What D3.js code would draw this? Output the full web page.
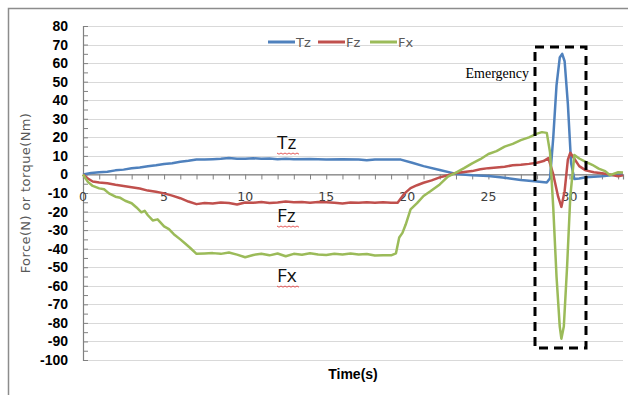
<!DOCTYPE html>
<html>
<head>
<meta charset="utf-8">
<script src="https://cdn.jsdelivr.net/npm/d3@7"></script>
<style>
  body { margin: 0; background: #fff; }
  svg { display: block; font-family: "DejaVu Sans", sans-serif; }
</style>
</head>
<body>
<div id="chart"></div>
<script>

// time (s), value
var tzData = [[0,0],[0.5,0.8],[1,1.2],[1.5,1.5],[2,2.2],[2.5,2.6],[3,3.3],[3.5,3.8],[4,4.4],[4.5,4.9],[5,5.6],[5.5,6],[6,6.8],[6.5,7.4],[7,8.1],[7.5,8],[8,8.2],[8.5,8.4],[9,8.8],[9.5,8.5],[10,8.4],[10.5,8.7],[11,8.4],[11.5,8.6],[12,8.2],[12.5,8.4],[13,8.2],[14,8.3],[15,8.1],[16,8.2],[17,8.1],[17.5,7.6],[18,8.1],[19,8.1],[19.6,8],[20.3,6.3],[21,4.5],[22,2.4],[23,0.3],[24,-0.4],[25,-0.8],[26,-1.8],[27,-3],[28,-3.8],[28.6,-4.3],[28.8,-2],[29,20],[29.2,48],[29.4,63],[29.55,65],[29.7,61],[29.9,38],[30.1,6],[30.3,-2.5],[30.6,-2.2],[31,-1.5],[32,-1],[33,0],[33.3,0]];

var fzData = [[0,0],[0.3,-2.2],[0.6,-3.8],[1,-4.3],[1.5,-4.8],[2,-5.6],[2.5,-6.2],[3,-6.9],[3.5,-7.6],[4,-8.7],[4.5,-9.3],[5,-10.2],[5.5,-11.4],[6,-12.8],[6.5,-14.6],[7,-16],[7.5,-15.4],[8,-15.6],[8.5,-15.1],[9,-15.4],[9.5,-16.2],[10,-15.1],[10.5,-15.3],[11,-14.8],[11.5,-15.4],[12,-15.1],[12.5,-14.6],[13,-15],[13.5,-14.8],[14,-15.2],[14.5,-14.9],[15,-15],[15.5,-15.3],[16,-15.6],[16.5,-15.1],[17,-15.3],[17.5,-15],[18,-15.3],[18.5,-15],[19,-15.2],[19.4,-15.2],[19.8,-10.5],[20.2,-7.4],[20.6,-5.8],[21,-4.5],[21.5,-3.2],[22,-1.6],[22.5,-0.4],[23,0.8],[23.5,1.3],[24,1.8],[24.5,2.8],[25,3.4],[25.5,3.8],[26,4.2],[26.5,4.9],[27,5.2],[27.5,5.7],[28,6.3],[28.4,7.2],[28.7,8.8],[29,0],[29.3,-12],[29.5,-17.5],[29.7,-9],[29.9,8],[30.05,11.7],[30.3,8.5],[30.6,4.5],[31,2.2],[31.5,1.2],[32,0.6],[32.5,0],[33,-1],[33.3,-0.5]];

var fxData = [[0,0],[0.3,-4],[0.6,-6.2],[1,-7.5],[1.3,-8],[1.6,-10.2],[2,-12],[2.3,-12.6],[2.6,-14.2],[3,-15.5],[3.3,-17.8],[3.6,-20.4],[3.8,-19.6],[4,-22],[4.3,-24.8],[4.6,-24.2],[5,-28],[5.3,-29.5],[5.6,-32.2],[6,-35],[6.3,-37.2],[6.6,-39.5],[7,-42.8],[7.5,-42.6],[8,-42.4],[8.5,-42.8],[9,-42.1],[9.5,-43.2],[10,-44.6],[10.5,-43.4],[11,-42.7],[11.5,-43.6],[12,-42.6],[12.5,-44.1],[13,-42.8],[13.5,-43.3],[14,-42.5],[14.5,-43.1],[15,-43.4],[15.5,-42.8],[16,-43.2],[16.5,-42.6],[17,-43.1],[17.5,-42.9],[18,-43.7],[18.5,-43.6],[19,-43.6],[19.3,-42.5],[19.5,-34],[19.7,-31.5],[19.9,-27],[20.2,-18.8],[20.6,-15.5],[21,-11.6],[21.4,-9.2],[22,-5.4],[22.5,-1.2],[23,1],[23.5,3.4],[24,6],[24.5,8.2],[25,11],[25.5,12.6],[26,15],[26.5,16.5],[27,18.5],[27.5,20],[28,22],[28.3,22.8],[28.6,22.4],[28.8,12],[29,-18],[29.2,-55],[29.4,-82],[29.5,-88.5],[29.65,-82],[29.85,-50],[30.05,-12],[30.3,10.5],[30.6,8.6],[31,6.8],[31.4,5.2],[31.8,3.1],[32.2,1.8],[32.5,-0.4],[33,1.2],[33.3,1]];

var seriesNames = ["Tz", "Fz", "Fx"];
var seriesColours = ["#4f81bd", "#c0504d", "#9bbb59"];
var seriesData = [tzData, fzData, fxData];

var yTicks = [80, 70, 60, 50, 40, 30, 20, 10, 0, -10, -20, -30, -40, -50, -60, -70, -80, -90, -100];
var xTickLabels = [0, 5, 10, 15, 20, 25, 30];

var width = 633, height = 395;

var x = d3.scaleLinear().domain([0, 33.3]).range([83, 623]);
var y = d3.scaleLinear().domain([-100, 80]).range([360, 26]);

var svg = d3.select("#chart").append("svg")
.attr("width", width)
.attr("height", height);

// frame (top and left only visible)
svg.append("path")
.attr("d", "M8.5,395 L8.5,8.5 L628,8.5")
.attr("fill", "none")
.attr("stroke", "#8c8c8c")
.attr("stroke-width", 1.5);

// gridlines
svg.append("g")
.selectAll("line")
.data(yTicks)
.enter().append("line")
.attr("x1", x(0))
.attr("x2", x(33.3))
.attr("y1", function(d) { return Math.round(y(d)) + 0.5; })
.attr("y2", function(d) { return Math.round(y(d)) + 0.5; })
.attr("stroke", "#d9d9d9")
.attr("stroke-width", 1);

// y axis (ticks every 5, inside)
var yAxis = d3.axisRight(y)
.tickValues(d3.range(-100, 81, 5))
.tickSize(5)
.tickFormat("");
svg.append("g")
.attr("transform", "translate(" + x(0) + ",0)")
.call(yAxis)
.call(function(g) {
  g.select(".domain").attr("stroke", "#808080").attr("stroke-width", 1.2);
  g.selectAll(".tick line").attr("stroke", "#808080");
});

// y labels
svg.append("g")
.selectAll("text")
.data(yTicks)
.enter().append("text")
.attr("x", 68)
.attr("y", function(d) { return y(d) + 5; })
.attr("text-anchor", "end")
.attr("font-size", 14)
.attr("font-weight", "bold")
.attr("font-family", "'Liberation Sans', Arial, sans-serif")
.attr("fill", "#000")
.text(function(d) { return d; });

// x axis at y = 0 (ticks every 1 s)
var xAxis = d3.axisBottom(x)
.tickValues(d3.range(0, 34, 1))
.tickSize(5)
.tickFormat("");
svg.append("g")
.attr("transform", "translate(0," + y(0) + ")")
.call(xAxis)
.call(function(g) {
  g.select(".domain").attr("stroke", "#808080").attr("stroke-width", 1.2);
  g.selectAll(".tick line").attr("stroke", "#808080");
});

svg.append("g")
.selectAll("text")
.data(xTickLabels)
.enter().append("text")
.attr("x", function(d) { return x(d); })
.attr("y", y(0) + 27)
.attr("text-anchor", "middle")
.attr("font-size", 12.5)
.attr("fill", "#404040")
.text(function(d) { return d; });

// series
var line = d3.line()
.x(function(d) { return x(d[0]); })
.y(function(d) { return y(d[1]); });

svg.append("g")
.selectAll("path")
.data(seriesData)
.enter().append("path")
.attr("d", line)
.attr("fill", "none")
.attr("stroke", function(d, i) { return seriesColours[i]; })
.attr("stroke-width", 2.5)
.attr("stroke-linejoin", "round");

// legend
var legendX = [268, 318, 370];
var legend = svg.append("g");
seriesNames.forEach(function(name, i) {
  legend.append("line")
  .attr("x1", legendX[i]).attr("x2", legendX[i] + 27)
  .attr("y1", 42).attr("y2", 42)
  .attr("stroke", seriesColours[i])
  .attr("stroke-width", 3);
  legend.append("text")
  .attr("x", legendX[i] + 28)
  .attr("y", 47)
  .attr("font-size", 13)
  .attr("fill", "#595959")
  .text(name);
});

// curve labels with spell-check squiggles
var curveLabels = [["Tz", 149], ["Fz", 222], ["Fx", 282]];
curveLabels.forEach(function(c) {
  svg.append("text")
  .attr("x", 277)
  .attr("y", c[1])
  .attr("font-size", 19)
  .attr("font-family", "'Open Sans', 'DejaVu Sans', sans-serif")
  .attr("fill", "#111")
  .text(c[0]);
  var pts = d3.range(277, 300, 2).map(function(px, j) { return [px, c[1] + 4 + (j % 2 ? 1.2 : 0)]; });
  svg.append("path")
  .attr("d", d3.line()(pts))
  .attr("fill", "none")
  .attr("stroke", "#e03030")
  .attr("stroke-width", 0.8);
});

// emergency box
svg.append("rect")
.attr("x", 535)
.attr("y", 47)
.attr("width", 51)
.attr("height", 301)
.attr("fill", "none")
.attr("stroke", "#000")
.attr("stroke-width", 3)
.attr("stroke-dasharray", "9,6");

svg.append("text")
.attr("x", 529)
.attr("y", 78)
.attr("text-anchor", "end")
.attr("font-size", 14)
.attr("font-family", "'Liberation Serif', serif")
.attr("fill", "#000")
.text("Emergency");

// axis titles
svg.append("text")
.attr("transform", "translate(30,193) rotate(-90)")
.attr("text-anchor", "middle")
.attr("font-size", 13)
.attr("letter-spacing", 0.4)
.attr("fill", "#595959")
.text("Force(N) or  torque(Nm)");

svg.append("text")
.attr("x", 353)
.attr("y", 379)
.attr("text-anchor", "middle")
.attr("font-size", 14)
.attr("font-weight", "bold")
.attr("font-family", "'Liberation Sans', Arial, sans-serif")
.attr("fill", "#000")
.text("Time(s)");

</script>
</body>
</html>
